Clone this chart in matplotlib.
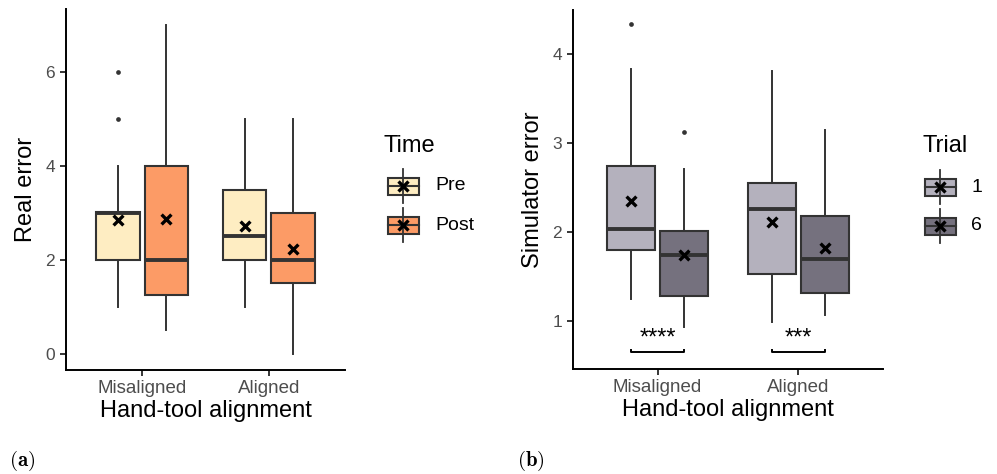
import numpy as np
import matplotlib.pyplot as plt
import matplotlib.transforms as mtransforms
from matplotlib.patches import Rectangle
from matplotlib.lines import Line2D

plt.rcParams['font.family'] = ['Liberation Sans', 'DejaVu Sans']
plt.rcParams['mathtext.fontset'] = 'cm'

W, H = 997, 474

groups = ["Misaligned", "Aligned"]

# panel (a): real error, rows = Pre / Post, columns = Misaligned / Aligned
time_levels = ["Pre", "Post"]
time_colors = ["#FEEDC2", "#FC9B66"]
real_q1 = [[2.0, 2.0], [1.25, 1.5]]
real_med = [[3.0, 2.5], [2.0, 2.0]]
real_q3 = [[3.03, 3.5], [4.0, 3.0]]
real_lo = [[1.0, 1.0], [0.5, 0.0]]
real_hi = [[4.0, 5.0], [7.0, 5.0]]
real_mean = [[2.85, 2.72], [2.87, 2.23]]
real_out = [[[5.0, 6.0], []], [[], []]]

# panel (b): simulator error, rows = Trial 1 / Trial 6
trial_levels = ["1", "6"]
trial_colors = ["#B4B1BD", "#75717E"]
sim_q1 = [[1.80, 1.53], [1.28, 1.32]]
sim_med = [[2.04, 2.26], [1.74, 1.70]]
sim_q3 = [[2.74, 2.55], [2.01, 2.18]]
sim_lo = [[1.25, 0.99], [0.94, 1.07]]
sim_hi = [[3.83, 3.81], [2.71, 3.15]]
sim_mean = [[2.35, 2.11], [1.74, 1.82]]
sim_out = [[[4.33], []], [[3.12], []]]
sim_stars = ["****", "***"]
bracket_y = 0.652

EDGE = "#333333"
DODGE = [-0.19, 0.19]


def draw_boxes(ax, q1, med, q3, lo, hi, mean, out, colors):
    x = np.arange(1, len(groups) + 1)
    for i, color in enumerate(colors):
        stats = []
        for g in range(len(groups)):
            stats.append(dict(med=med[i][g], q1=q1[i][g], q3=q3[i][g],
                              whislo=lo[i][g], whishi=hi[i][g],
                              fliers=out[i][g]))
        pos = x + DODGE[i]
        ax.bxp(stats, positions=pos, widths=0.34, patch_artist=True,
               showcaps=False,
               boxprops=dict(facecolor=color, edgecolor=EDGE, linewidth=1.5),
               medianprops=dict(color=EDGE, linewidth=2.8,
                                solid_capstyle='butt'),
               whiskerprops=dict(color=EDGE, linewidth=1.4),
               flierprops=dict(marker='o', markersize=3.4,
                               markerfacecolor=EDGE, markeredgecolor='none'))
        ax.scatter(pos, mean[i], marker='x', s=50, c='black',
                   linewidths=2.4, zorder=5)


def style_axes(ax, ylabel):
    ax.set_xlim(0.4, 2.6)
    ax.set_xticks(np.arange(1, len(groups) + 1))
    ax.set_xticklabels(groups)
    for s in ['top', 'right']:
        ax.spines[s].set_visible(False)
    for s in ['left', 'bottom']:
        ax.spines[s].set_linewidth(1.4)
        ax.spines[s].set_color('black')
    ax.tick_params(axis='both', length=4.5, width=1.1, color='black',
                   labelcolor='#4D4D4D')
    ax.tick_params(axis='x', labelsize=13.5, pad=3)
    ax.tick_params(axis='y', labelsize=12.5, pad=3.5)
    ax.set_xlabel("Hand-tool alignment", fontsize=17, labelpad=2)
    ax.set_ylabel(ylabel, fontsize=17, labelpad=6)


def px_axes(fig, x0, y0, x1, y1):
    return fig.add_axes([x0 / W, 1 - y1 / H, (x1 - x0) / W, (y1 - y0) / H])


def draw_legend(fig, title, labels, colors, tx, kx, lx, ys):
    trans = mtransforms.Affine2D().scale(1 / W, -1 / H).translate(0, 1) \
        + fig.transFigure
    fig.text(tx / W, 1 - 146 / H, title, fontsize=17, va='center')
    for lab, color, cy in zip(labels, colors, ys):
        fig.add_artist(Rectangle((kx - 15.5, cy - 8.5), 31, 17,
                                 transform=trans, facecolor=color,
                                 edgecolor=EDGE, linewidth=1.5))
        fig.add_artist(Line2D([kx - 15.5, kx + 15.5], [cy, cy],
                              transform=trans, color=EDGE, linewidth=1.5))
        fig.add_artist(Line2D([kx, kx], [cy - 17, cy + 17], transform=trans,
                              color=EDGE, linewidth=1.3))
        fig.add_artist(Line2D([kx], [cy], transform=trans, marker='x',
                              markersize=7, markeredgewidth=2.4,
                              color='black'))
        fig.text(lx / W, 1 - cy / H, lab, fontsize=14, va='center')


fig = plt.figure(figsize=(W / 100, H / 100), dpi=100)

# (a) real error
ax1 = px_axes(fig, 66, 9, 345, 370)
draw_boxes(ax1, real_q1, real_med, real_q3, real_lo, real_hi, real_mean,
           real_out, time_colors)
style_axes(ax1, "Real error")
ax1.set_ylim(-0.35, 7.35)
ax1.set_yticks([0, 2, 4, 6])

# (b) simulator error
ax2 = px_axes(fig, 573, 10, 883, 369)
draw_boxes(ax2, sim_q1, sim_med, sim_q3, sim_lo, sim_hi, sim_mean,
           sim_out, trial_colors)
style_axes(ax2, "Simulator error")
ax2.set_ylim(0.466, 4.49)
ax2.set_yticks([1, 2, 3, 4])

for g, stars in enumerate(sim_stars):
    x1 = g + 1 + DODGE[0]
    x2 = g + 1 + DODGE[1]
    ax2.plot([x1, x1, x2, x2],
             [bracket_y + 0.03, bracket_y, bracket_y, bracket_y + 0.03],
             color='black', linewidth=1.4)
    ax2.text((x1 + x2) / 2, bracket_y + 0.03, stars, ha='center',
             va='bottom', fontsize=17)

draw_legend(fig, "Time", time_levels, time_colors, 383, 403, 435, [186, 225])
draw_legend(fig, "Trial", trial_levels, trial_colors, 922, 940, 971,
            [187, 226])

fig.text(9 / W, 1 - 461 / H, r"$\mathbf{(a)}$", fontsize=15, va='center')
fig.text(517 / W, 1 - 461 / H, r"$\mathbf{(b)}$", fontsize=15, va='center')

fig.savefig("out.png", dpi=100)
